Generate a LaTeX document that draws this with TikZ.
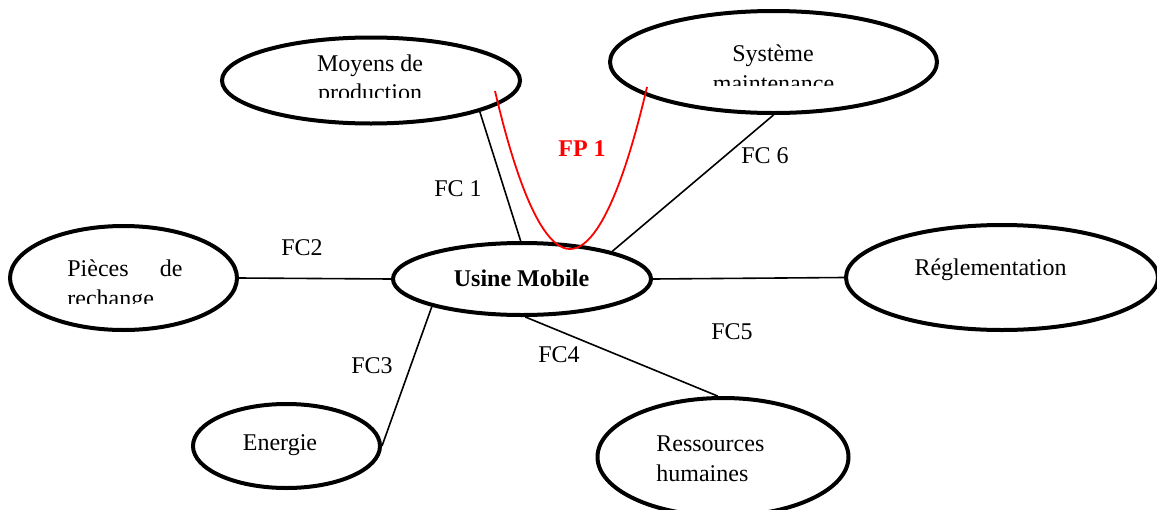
\documentclass[tikz,border=0pt]{standalone}
\usepackage{fontspec}
\setmainfont{Liberation Serif}
\usetikzlibrary{shapes.geometric}
\tikzset{
  ell/.style={ellipse, draw=black, line width=2pt, fill=white, inner sep=0pt},
  conn/.style={draw=black, line width=0.8pt},
  lbl/.style={inner sep=0pt, anchor=base, font=\fontsize{12}{15}\selectfont},
  fplbl/.style={lbl, text=red, font=\fontsize{12}{15}\selectfont\bfseries},
  fpline/.style={draw=red, line width=0.9pt}
}
\begin{document}
\begin{tikzpicture}[x=0.5pt,y=-0.5pt]
\useasboundingbox (0,0) rectangle (1157,509);
% ellipses
\node[ell, minimum width=149pt, minimum height=43pt] (moy) at (371,80.5) {};
\node[ell, minimum width=163.5pt, minimum height=51pt] (sys) at (773.5,62) {};
\node[ell, minimum width=113.5pt, minimum height=52pt] (pie) at (123.5,278) {};
\node[ell, minimum width=129pt, minimum height=36pt] (usi) at (522,279) {};
\node[ell, minimum width=156pt, minimum height=52.5pt] (reg) at (1002,277.5) {};
\node[ell, minimum width=93.5pt, minimum height=42pt] (ene) at (286.5,446) {};
\node[ell, minimum width=125.5pt, minimum height=59pt] (res) at (723,457) {};
% connectors
\draw[conn] (moy.-16) -- (usi.92);
\draw[conn] (sys.-90) -- (usi.17);
\draw[conn] (pie.east) -- (usi.west);
\draw[conn] (usi.east) -- (reg.west);
\draw[conn] (usi.197) -- (ene.east);
\draw[conn] (usi.-85) -- (res.95);
% texts in ellipses
\node[lbl] (tmoy1) at (370,71) {Moyens de};
\begin{scope}
\clip (300,80) rectangle (450,97);
\node[lbl] (tmoy2) at (370,100) {production};
\end{scope}
\node[lbl] (tsys1) at (773,61) {Système};
\begin{scope}
\clip (700,70) rectangle (850,85);
\node[lbl] (tsys2) at (773.5,91) {maintenance};
\end{scope}
\node[lbl, anchor=base west] (tpie1) at (67,276) {\hbox to 57.5pt{Pièces\hfill de}};
\begin{scope}
\clip (60,285) rectangle (200,303.5);
\node[lbl, anchor=base west] (tpie2) at (67,306) {rechange};
\end{scope}
\node[lbl, font=\fontsize{12}{15}\selectfont\bfseries] (tusi) at (521.5,286) {Usine Mobile};
\node[lbl] (treg) at (990.5,275) {Réglementation};
\node[lbl] (tene) at (280,450) {Energie};
\node[lbl, anchor=base west] (tres1) at (656,451) {Ressources};
\node[lbl, anchor=base west] (tres2) at (656,481) {humaines};
% connector labels
\node[lbl] (fc1) at (458,196) {FC 1};
\node[lbl] (fc2) at (302,255) {FC2};
\node[lbl] (fc3) at (372,373) {FC3};
\node[lbl] (fc4) at (559,362) {FC4};
\node[lbl] (fc5) at (732,339) {FC5};
\node[lbl] (fc6) at (765,163) {FC 6};
\node[fplbl] (fp1) at (582,156) {FP 1};
% FP1 curve
\coordinate (fpa) at (495,91);
\coordinate (fpb) at (570,249);
\coordinate (fpc) at (647,87);
\draw[fpline] (fpa) parabola bend (fpb) (fpc);
\end{tikzpicture}
\end{document}
